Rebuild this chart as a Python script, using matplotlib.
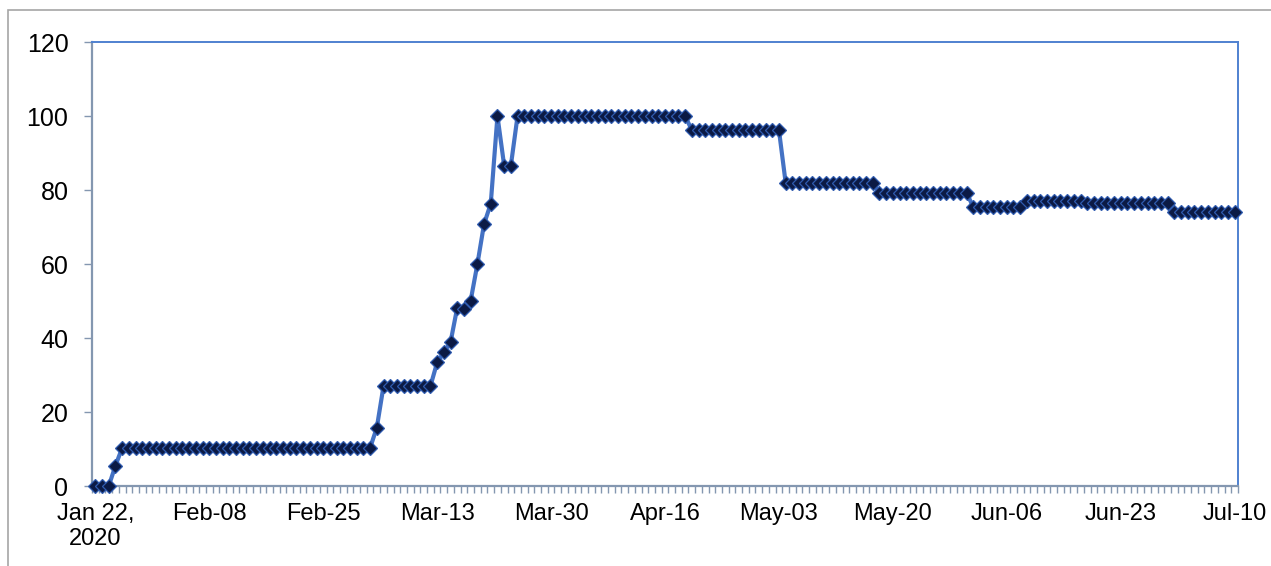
import matplotlib
matplotlib.use("Agg")
import matplotlib.pyplot as plt
from matplotlib.patches import Rectangle

# ---- data (daily values, Jan 22 2020 .. Jul 10 2020) ----
values = [
    0, 0, 0, 5.5,
    10.3, 10.3, 10.3, 10.3, 10.3, 10.3, 10.3, 10.3, 10.3, 10.3,
    10.3, 10.3, 10.3, 10.3, 10.3, 10.3, 10.3, 10.3, 10.3, 10.3,
    10.3, 10.3, 10.3, 10.3, 10.3, 10.3, 10.3, 10.3, 10.3, 10.3,
    10.3, 10.3, 10.3, 10.3, 10.3, 10.3, 10.3, 10.3,
    15.8,
    27.0, 27.0, 27.0, 27.0, 27.0, 27.0, 27.0, 27.0,
    33.4, 36.1, 38.9, 48.2, 47.9, 50.1, 59.9, 70.8, 76.3, 100.0, 86.6, 86.6,
    100.0, 100.0, 100.0, 100.0, 100.0, 100.0, 100.0, 100.0, 100.0, 100.0,
    100.0, 100.0, 100.0, 100.0, 100.0, 100.0, 100.0, 100.0, 100.0, 100.0,
    100.0, 100.0, 100.0, 100.0, 100.0, 100.0,
    96.2, 96.2, 96.2, 96.2, 96.2, 96.2, 96.2, 96.2, 96.2, 96.2,
    96.2, 96.2, 96.2, 96.2,
    82.0, 82.0, 82.0, 82.0, 82.0, 82.0, 82.0, 82.0, 82.0, 82.0,
    82.0, 82.0, 82.0, 82.0,
    79.2, 79.2, 79.2, 79.2, 79.2, 79.2, 79.2, 79.2, 79.2, 79.2,
    79.2, 79.2, 79.2, 79.2,
    75.4, 75.4, 75.4, 75.4, 75.4, 75.4, 75.4, 75.4,
    77.1, 77.1, 77.1, 77.1, 77.1, 77.1, 77.1, 77.1, 77.1,
    76.4, 76.4, 76.4, 76.4, 76.4, 76.4, 76.4, 76.4, 76.4, 76.4,
    76.4, 76.4, 76.4,
    74.1, 74.1, 74.1, 74.1, 74.1, 74.1, 74.1, 74.1, 74.1, 74.1,
]
tick_labels = ["Jan 22,\n2020", "Feb-08", "Feb-25", "Mar-13", "Mar-30", "Apr-16",
               "May-03", "May-20", "Jun-06", "Jun-23", "Jul-10"]
label_step = 17
y_ticks = [0, 20, 40, 60, 80, 100, 120]

plt.rcParams['font.family'] = ['Liberation Sans', 'DejaVu Sans']

W, H = 1271, 566
fig = plt.figure(figsize=(W / 100, H / 100), dpi=100)
fig.patch.set_facecolor('white')

# outer chart border (gray)
fig.patches.append(Rectangle((8 / W, -0.1), 1.2, 1 - 10 / H + 0.1,
                             transform=fig.transFigure, fill=False,
                             edgecolor='#A6A6A6', linewidth=1.2))

ax = fig.add_axes([92 / W, 1 - 486 / H, (1238 - 92) / W, (486 - 42) / H])
n = len(values)
x = list(range(n))
ax.plot(x, values, color='#4472C4', linewidth=3.0, marker='D', markersize=6.8,
        markerfacecolor='#0B1A45', markeredgecolor='#2F5BB0', markeredgewidth=0.9,
        zorder=3, clip_on=False)

ax.set_xlim(-0.5, n - 0.5)
ax.set_ylim(0, 120)
ax.set_yticks(y_ticks)
ax.set_yticklabels([str(v) for v in y_ticks])

major = list(range(0, n, label_step))
ax.set_xticks(major)
ax.set_xticklabels(tick_labels, ha='center', multialignment='center')
ax.set_xticks([i - 0.5 for i in range(n + 1)], minor=True)

ax.tick_params(axis='x', which='major', length=0, pad=12, labelsize=17, colors='black')
ax.tick_params(axis='x', which='minor', length=5, width=1, color='#8497B0', direction='out')
ax.tick_params(axis='y', which='major', length=6, width=1, color='#8497B0', pad=11,
               labelsize=18, labelcolor='black')

for s in ['left', 'bottom']:
    ax.spines[s].set_color('#8497B0')
    ax.spines[s].set_linewidth(1.6)
for s in ['top', 'right']:
    ax.spines[s].set_color('#4F81D0')
    ax.spines[s].set_linewidth(1.4)

fig.savefig('out.png', dpi=100, facecolor='white')
